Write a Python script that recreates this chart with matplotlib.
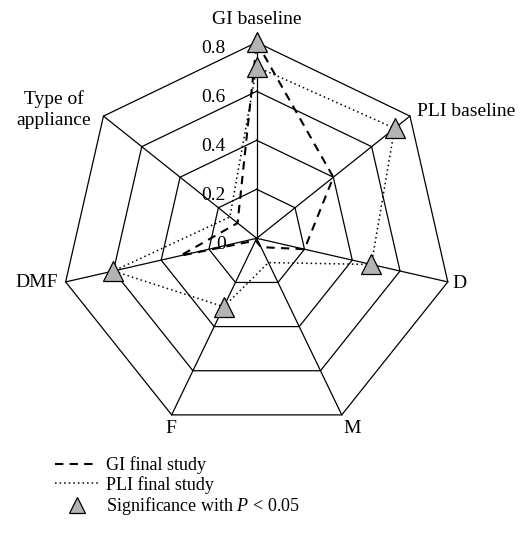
import numpy as np
import matplotlib
matplotlib.use("Agg")
import matplotlib.pyplot as plt
from matplotlib.lines import Line2D

plt.rcParams['font.family'] = ['Liberation Serif', 'DejaVu Serif']
plt.rcParams['mathtext.fontset'] = 'custom'
plt.rcParams['mathtext.rm'] = 'Liberation Serif'
plt.rcParams['mathtext.it'] = 'Liberation Serif:italic'

# radar categories, clockwise from the top
categories = ['GI baseline', 'PLI baseline', 'D', 'M', 'F', 'DMF', 'Type of\nappliance']
gi_final = [0.80, 0.40, 0.20, 0.04, 0.01, 0.32, 0.10]
pli_final = [0.70, 0.72, 0.48, 0.11, 0.31, 0.60, 0.14]
gi_sig = [True, False, False, False, False, False, False]
pli_sig = [True, True, True, False, True, True, False]
rings = [0.2, 0.4, 0.6, 0.8]
ring_labels = ['0', '0.2', '0.4', '0.6', '0.8']

n = len(categories)
theta = np.pi / 2 - 2 * np.pi * np.arange(n) / n


def to_xy(vals):
    vals = np.asarray(vals, dtype=float)
    return vals * np.cos(theta), vals * np.sin(theta)


def closed(a):
    return np.append(a, a[0])


fig = plt.figure(figsize=(5.28, 5.33), dpi=100)
ax = fig.add_axes([0, 0, 1, 1])
ax.set_xlim(-1.0478, 1.1073)
ax.set_ylim(-1.2029, 0.9727)
ax.axis('off')

# heptagon grid and spokes
rmax = rings[-1]
for r in rings:
    gx, gy = to_xy([r] * n)
    ax.plot(closed(gx), closed(gy), color='black', lw=0.9, zorder=1)
ox, oy = to_xy([rmax] * n)
for x, y in zip(ox, oy):
    ax.plot([0, x], [0, y], color='black', lw=0.9, zorder=1)

# scale labels up the top spoke
for v, s in zip([0] + rings, ring_labels):
    ax.text(-0.127, v - 0.043, s, ha='right', va='baseline', fontsize=14)

# category labels around the outer ring
label_style = [
    (0.0, 0.075, 'center', 'baseline'),
    (0.029, 0.0, 'left', 'baseline'),
    (0.017, -0.025, 'left', 'baseline'),
    (0.005, -0.074, 'left', 'baseline'),
    (-0.003, -0.074, 'center', 'baseline'),
    (-0.031, -0.021, 'right', 'baseline'),
    (-0.2015, 0.025, 'center', 'center'),
]
for (x, y), name, (dx, dy, ha, va) in zip(zip(ox, oy), categories, label_style):
    ax.text(x + dx, y + dy, name, ha=ha, va=va, fontsize=14,
            multialignment='center', linespacing=1.3)

# the two final-study profiles
dash = dict(color='black', ls=(0, (4, 3)), lw=1.5)
dots = dict(color='black', ls=(0, (1, 2)), lw=1.1)
gx, gy = to_xy(gi_final)
px, py = to_xy(pli_final)
ax.plot(closed(gx), closed(gy), zorder=2, **dash)
ax.plot(closed(px), closed(py), zorder=2, **dots)

# significant points
tri = dict(marker='^', ms=14, mfc='#b3b3b3', mec='black', mew=0.9, ls='none', zorder=3)
ax.plot(gx[np.array(gi_sig)], gy[np.array(gi_sig)], **tri)
ax.plot(px[np.array(pli_sig)], py[np.array(pli_sig)], **tri)

leg_tri = dict(tri, ms=12)
handles = [Line2D([], [], **dash), Line2D([], [], **dots), Line2D([], [], **leg_tri)]
labels = ['GI final study', 'PLI final study', 'Significance with $P$ < 0.05']
fig.legend(handles, labels, loc='upper left', bbox_to_anchor=(55 / 528, 1 - 456 / 533),
           frameon=False, fontsize=13, handlelength=2.4, handletextpad=0.4,
           labelspacing=0.1, borderpad=0, borderaxespad=0, numpoints=1)

fig.savefig('out.png', dpi=100)
